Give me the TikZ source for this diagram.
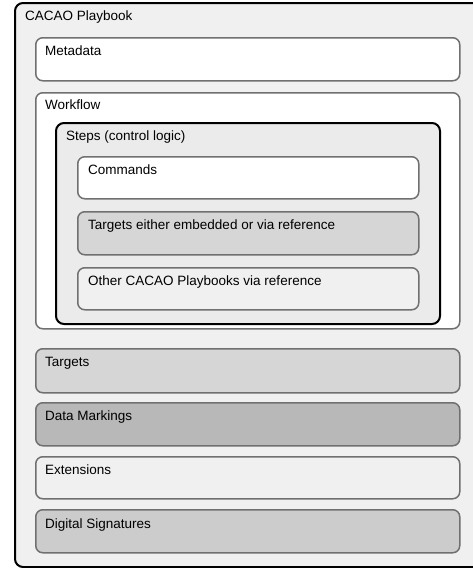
\documentclass[tikz,border=0pt]{standalone}
\usepackage{fontspec}
\setmainfont{Liberation Sans}
\begin{document}
\begin{tikzpicture}[x=1pt,y=-1pt,
  box/.style={draw=black!56, line width=1.5pt, rounded corners=7pt, anchor=north west, inner sep=0pt},
  darkbox/.style={draw=black, line width=2pt, rounded corners=8pt, anchor=north west, inner sep=0pt},
  lbl/.style={anchor=base west, inner sep=0pt, font=\fontsize{13.5}{16}\selectfont}]
\useasboundingbox (0,0) rectangle (473,568);
\path[fill=white] (0,0) rectangle (473,568);
% outer playbook
\node[darkbox, fill=black!6, minimum width=470pt, minimum height=564pt] (pb) at (14,2) {};
\node[lbl] (pbl) at (25,20) {CACAO Playbook};
% metadata
\node[box, fill=white, minimum width=424pt, minimum height=43pt] (meta) at (35,37) {};
\node[lbl] (metal) at (45,55) {Metadata};
% workflow
\node[box, fill=white, minimum width=424pt, minimum height=236pt] (wf) at (35,92) {};
\node[lbl] (wfl) at (45,109.5) {Workflow};
% steps
\node[darkbox, fill=black!8, minimum width=384pt, minimum height=201pt] (steps) at (55,122) {};
\node[lbl] (stepsl) at (66,140) {Steps (control logic)};
% commands
\node[box, fill=white, minimum width=341pt, minimum height=42pt] (cmd) at (77,156) {};
\node[lbl] (cmdl) at (88,174) {Commands};
\node[box, fill=black!16, minimum width=341pt, minimum height=43pt] (tgte) at (77,211) {};
\node[lbl] (tgtel) at (88,229.5) {Targets either embedded or via reference};
\node[box, fill=black!6, minimum width=341pt, minimum height=42pt] (other) at (77,267) {};
\node[lbl] (otherl) at (88,285) {Other CACAO Playbooks via reference};
% lower boxes
\node[box, fill=black!16, minimum width=424pt, minimum height=44pt] (tgt) at (35,348) {};
\node[lbl] (tgtl) at (45,366) {Targets};
\node[box, fill=black!28, minimum width=424pt, minimum height=43pt] (dm) at (35,402) {};
\node[lbl] (dml) at (45,420) {Data Markings};
\node[box, fill=black!6, minimum width=424pt, minimum height=42pt] (ext) at (35,456) {};
\node[lbl] (extl) at (45,474) {Extensions};
\node[box, fill=black!20, minimum width=424pt, minimum height=43pt] (sig) at (35,509) {};
\node[lbl] (sigl) at (45,528) {Digital Signatures};
\end{tikzpicture}
\end{document}
